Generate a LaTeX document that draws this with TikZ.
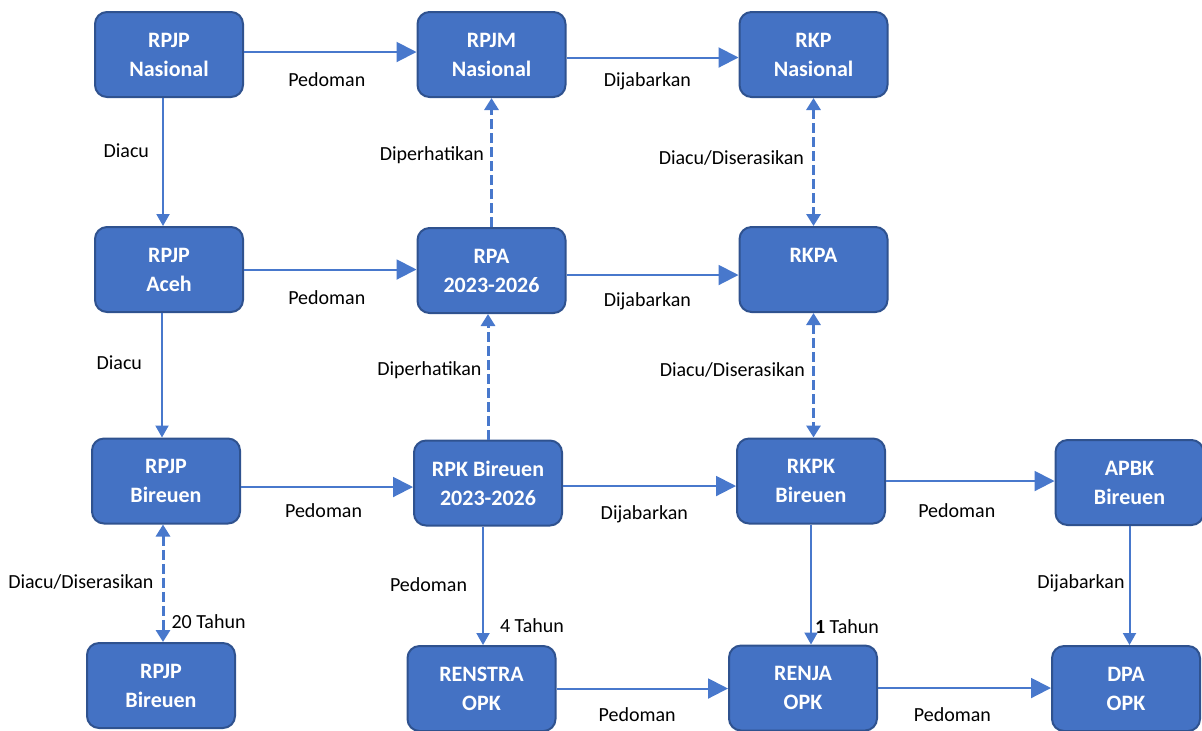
\documentclass[tikz,border=0pt]{standalone}
\usepackage{fontspec}
\setmainfont{Carlito}
\usetikzlibrary{arrows.meta}

\definecolor{boxblue}{RGB}{68,114,196}
\definecolor{boxedge}{RGB}{47,82,143}
\definecolor{lineblue}{RGB}{72,120,204}

\tikzset{
  box/.style={draw=boxedge, line width=1pt, fill=boxblue, rounded corners=6pt,
    minimum width=74pt, minimum height=42.5pt, text=white, align=center,
    font=\fontsize{11}{14.5}\selectfont\bfseries},
  lbl/.style={font=\fontsize{10}{12}\selectfont, inner sep=0pt, text=black},
  hflow/.style={draw=lineblue, line width=1pt, -{Triangle[length=10pt,width=10pt]}},
  vflow/.style={draw=lineblue, line width=1pt, -{Triangle[length=6pt,width=6.5pt]}},
  dflow/.style={draw=lineblue, line width=1.5pt, dash pattern=on 5pt off 2pt,
    -{Triangle[length=6pt,width=7pt]}},
  ddflow/.style={dflow, {Triangle[length=6pt,width=7pt]}-{Triangle[length=6pt,width=7pt]}},
}

\begin{document}
\begin{tikzpicture}[x=0.5pt, y=-0.5pt]
  \useasboundingbox (0,0) rectangle (1202,730);

  \node[box] (nas)     at (169,54.5)    {RPJP\\Nasional};
  \node[box] (rpjm)    at (491.5,54.5)  {RPJM\\Nasional};
  \node[box] (rkp)     at (813.5,54.5)  {RKP\\Nasional};
  \node[box] (aceh)    at (169,269.5)   {RPJP\\Aceh};
  \node[box] (rpa)     at (491.5,270.5) {RPA\\2023-2026};
  \node[box] (rkpa)    at (813.5,269.5) {RKPA\\\phantom{X}};
  \node[box] (rpjpb)   at (166,481)     {RPJP\\Bireuen};
  \node[box] (rpk)     at (488,483)     {RPK Bireuen\\2023-2026};
  \node[box] (rkpk)    at (811,481)     {RKPK\\Bireuen};
  \node[box] (apbk)    at (1129.5,482.5){APBK\\Bireuen};
  \node[box] (rpjpb2)  at (161,685.5)   {RPJP\\Bireuen};
  \node[box] (renstra) at (481.5,688.5) {RENSTRA\\OPK};
  \node[box] (renja)   at (803,688)     {RENJA\\OPK};
  \node[box] (dpa)     at (1126,688.5)  {DPA\\OPK};

  % horizontal
  \draw[hflow] ([yshift=1.25pt]nas.east) -- ([yshift=1.25pt]nas.east -| rpjm.west)
    node[lbl, pos=.48, yshift=-14pt] {Pedoman};
  \draw[hflow] ([yshift=-1.5pt]rpjm.east) -- ([yshift=-1.5pt]rpjm.east -| rkp.west)
    node[lbl, pos=.47, yshift=-12pt] {Dijabarkan};
  \draw[hflow] (aceh.east) -- (aceh.east -| rpa.west)
    node[lbl, pos=.48, yshift=-14pt] {Pedoman};
  \draw[hflow] ([yshift=-2.25pt]rpa.east) -- ([yshift=-2.25pt]rpa.east -| rkpa.west)
    node[lbl, pos=.47, yshift=-13pt] {Dijabarkan};
  \draw[hflow] ([yshift=-3pt]rpjpb.east) -- ([yshift=-3pt]rpjpb.east -| rpk.west)
    node[lbl, pos=.48, yshift=-12pt] {Pedoman};
  \draw[hflow] ([yshift=-1.5pt]rpk.east) -- ([yshift=-1.5pt]rpk.east -| rkpk.west)
    node[lbl, pos=.47, yshift=-14pt] {Dijabarkan};
  \draw[hflow] (rkpk.east) -- (rkpk.east -| apbk.west)
    node[lbl, pos=.42, yshift=-15pt] {Pedoman};
  \draw[hflow] (renstra.east) -- (renstra.east -| renja.west)
    node[lbl, pos=.47, yshift=-13pt] {Pedoman};
  \draw[hflow] (renja.east) -- (renja.east -| dpa.west)
    node[lbl, pos=.43, yshift=-13.5pt] {Pedoman};

  % vertical
  \draw[vflow] ([xshift=-3pt]nas.south) -- ([xshift=-3pt]nas.south |- aceh.north)
    node[lbl, pos=.41, anchor=east, xshift=-6.5pt] {Diacu};
  \draw[vflow] ([xshift=-3.5pt]aceh.south) -- ([xshift=-3.5pt]aceh.south |- rpjpb.north)
    node[lbl, pos=.40, anchor=east, xshift=-9.5pt] {Diacu};
  \draw[vflow] ([xshift=-2.5pt]rpk.south) -- ([xshift=-2.5pt]rpk.south |- renstra.north)
    node[lbl, pos=.49, anchor=east, xshift=-7.5pt] {Pedoman}
    node[lbl, pos=.84, anchor=west, xshift=8pt] {4 Tahun};
  \draw[vflow] (rkpk.south) -- (rkpk.south |- renja.north)
    node[lbl, pos=.85, anchor=west, xshift=1.5pt] {\textbf{1} Tahun};
  \draw[vflow] (apbk.south) -- (apbk.south |- dpa.north)
    node[lbl, pos=.48, anchor=east, xshift=-2pt] {Dijabarkan};

  % dashed
  \draw[dflow] (rpa.north) -- (rpa.north |- rpjm.south)
    node[lbl, pos=.56, anchor=east, xshift=-3pt] {Diperhatikan};
  \draw[dflow] (rpk.north) -- (rpk.north |- rpa.south)
    node[lbl, pos=.55, anchor=east, xshift=-2.5pt] {Diperhatikan};
  \draw[ddflow] (rkp.south) -- (rkp.south |- rkpa.north)
    node[lbl, pos=.47, anchor=east, xshift=-4pt] {Diacu/Diserasikan};
  \draw[ddflow] (rkpa.south) -- (rkpa.south |- rkpk.north)
    node[lbl, pos=.46, anchor=east, xshift=-3.5pt] {Diacu/Diserasikan};
  \draw[ddflow] ([xshift=-1.5pt]rpjpb.south) -- ([xshift=-1.5pt]rpjpb.south |- rpjpb2.north)
    node[lbl, pos=.49, anchor=east, xshift=-4pt] {Diacu/Diserasikan}
    node[lbl, pos=.83, anchor=west, xshift=3.5pt] {20 Tahun};
\end{tikzpicture}
\end{document}
